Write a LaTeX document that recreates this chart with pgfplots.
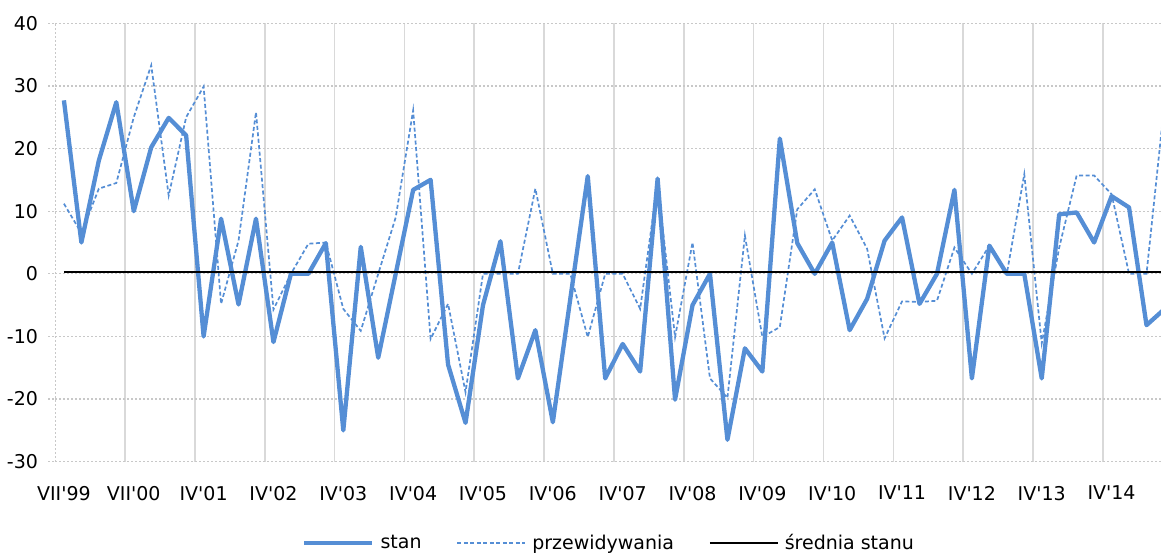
\documentclass[border=0pt]{standalone}
\usepackage{fontspec}
\setmainfont{DejaVu Sans}
\usepackage{pgfplots}
\pgfplotsset{compat=1.18}
\usepackage{pgfplotstable}
\definecolor{stanblue}{HTML}{558ED5}
\definecolor{gridgray}{HTML}{D9D9D9}
\definecolor{dotgray}{HTML}{C8C8C8}

\pgfplotstableread{
i stan pred mean
0 27.7 11.2 0.26
1 5.0 6.5 0.26
2 18.1 13.6 0.26
3 27.4 14.5 0.26
4 10.0 25.0 0.26
5 20.2 33.3 0.26
6 24.9 12.5 0.26
7 22.1 25.0 0.26
8 -10.0 29.9 0.26
9 8.8 -4.8 0.26
10 -4.9 5.3 0.26
11 8.8 25.8 0.26
12 -10.9 -5.7 0.26
13 0 0 0.26
14 0 4.8 0.26
15 4.9 5.0 0.26
16 -25.0 -5.6 0.26
17 4.3 -9.1 0.26
18 -13.4 0 0.26
19 0 9.0 0.26
20 13.4 26.1 0.26
21 15.0 -10.4 0.26
22 -14.5 -4.8 0.26
23 -23.8 -18.9 0.26
24 -5.0 0 0.26
25 5.2 0 0.26
26 -16.7 0 0.26
27 -9.0 13.6 0.26
28 -23.7 0 0.26
29 -4.0 0 0.26
30 15.6 -10.1 0.26
31 -16.7 0 0.26
32 -11.2 0 0.26
33 -15.6 -5.6 0.26
34 15.2 14.5 0.26
35 -20.1 -10.1 0.26
36 -5.0 5.0 0.26
37 0 -16.7 0.26
38 -26.5 -19.8 0.26
39 -11.9 6.1 0.26
40 -15.6 -10.1 0.26
41 21.6 -8.5 0.26
42 4.9 10.3 0.26
43 0 13.5 0.26
44 5.0 5.3 0.26
45 -9.0 9.3 0.26
46 -4.0 4.0 0.26
47 5.3 -10.3 0.26
48 9.0 -4.4 0.26
49 -4.8 -4.5 0.26
50 0 -4.3 0.26
51 13.4 4.2 0.26
52 -16.7 0 0.26
53 4.5 4.5 0.26
54 0 0 0.26
55 0 15.9 0.26
56 -16.7 -11.1 0.26
57 9.5 4.2 0.26
58 9.8 15.7 0.26
59 5.0 15.7 0.26
60 12.4 12.7 0.26
61 10.6 0 0.26
62 -8.2 0 0.26
63 -5.7 26.5 0.26
}\datatable

\begin{document}
\begin{tikzpicture}
\path[use as bounding box] (-55.2bp,-91.3bp) rectangle (1105.8bp,461.7bp);
\begin{axis}[
  scale only axis,
  width=1105.8bp, height=438.4bp,
  at={(0,0)}, anchor=south west,
  xmin=-0.5, xmax=62.83, ymin=-30, ymax=40,
  axis line style={draw=none},
  tick align=outside,
  major tick length=7bp,
  minor tick length=0pt,
  xtick={0,4,...,60},
  xticklabels={VII\textquotesingle 99,VII\textquotesingle 00,IV\textquotesingle 01,IV\textquotesingle 02,IV\textquotesingle 03,IV\textquotesingle 04,IV\textquotesingle 05,IV\textquotesingle 06,IV\textquotesingle 07,IV\textquotesingle 08,IV\textquotesingle 09,IV\textquotesingle 10,IV\textquotesingle 11,IV\textquotesingle 12,IV\textquotesingle 13,IV\textquotesingle 14},
  xtick style={draw=none},
  minor xtick={3.5,7.5,...,59.5},
  xminorgrids,
  minor x grid style={gridgray, line width=1.6bp},
  extra x ticks={-0.5},
  extra x tick labels={},
  extra x tick style={grid=major, major grid style={dotgray, line width=1.3bp, dash pattern=on 1.5bp off 2.5bp}, tick style={draw=none}},
  ytick={-30,-20,...,40},
  yticklabels={-30,-20,-10,0,10,20,30,40},
  ytick pos=left,
  xtick pos=bottom,
  ymajorgrids,
  major y grid style={dotgray, line width=1.3bp, dash pattern=on 1.5bp off 2.5bp},
  ytick style={dotgray, line width=1.3bp, dash pattern=on 1.5bp off 2.5bp},
  ticklabel style={font=\fontsize{19bp}{23bp}\selectfont, inner sep=0pt},
  yticklabel style={anchor=east, xshift=-10bp},
  xticklabel style={anchor=north, yshift=-17bp},
  legend columns=3,
  legend style={at={(0.2232,-0.1855)}, anchor=west, draw=none, fill=none,
    font=\fontsize{19bp}{23bp}\selectfont, inner sep=0pt,
    nodes={inner sep=4bp},
    /tikz/every even column/.append style={column sep=31bp},
    /tikz/every odd column/.append style={column sep=2bp}},
  legend image code/.code={\draw[#1] (0bp,0bp) -- (68bp,0bp);},
  clip=true,
]
\addplot[stanblue, line width=4.3bp, line join=round] table[x=i, y=stan] {\datatable};
\addlegendentry{stan}
\addplot[stanblue, line width=1.7bp, dash pattern=on 4bp off 2.5bp] table[x=i, y=pred] {\datatable};
\addlegendentry{przewidywania}
\addplot[black, line width=1.7bp] table[x=i, y=mean] {\datatable};
\addlegendentry{średnia stanu}
\end{axis}
\end{tikzpicture}
\end{document}
